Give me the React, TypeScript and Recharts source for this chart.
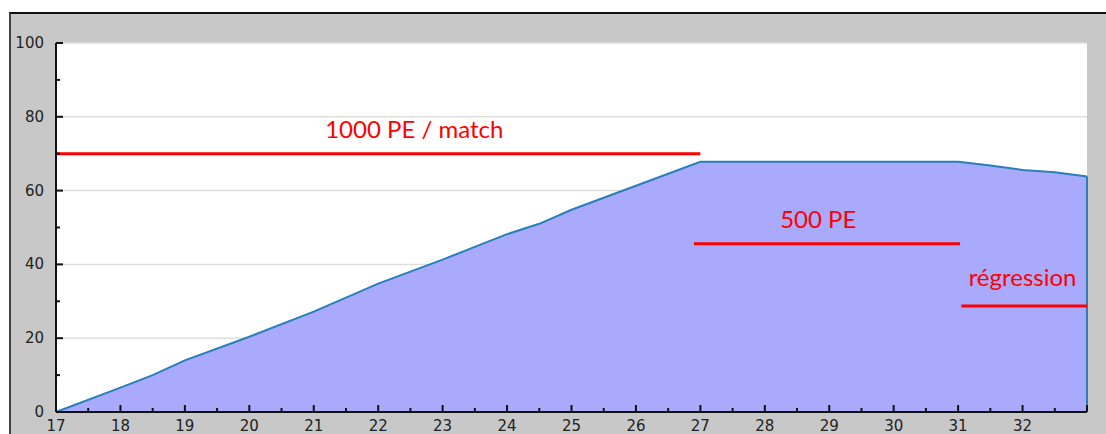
import React from 'react';
import { AreaChart, Area, XAxis, YAxis, CartesianGrid, ReferenceLine, ReferenceDot } from 'recharts';

// Age (years) and value
const ages = [17, 18, 18.5, 19, 20, 21, 22, 23, 24, 24.5, 25, 26, 27, 28, 29, 30, 31, 31.5, 32, 32.5, 33];
const values = [0, 6.6, 10, 14, 20.4, 27.2, 34.8, 41.3, 48.2, 51, 54.8, 61.3, 67.8, 67.8, 67.8, 67.8, 67.8, 66.8, 65.6, 65.0, 63.8];

const xTicks = [17, 17.5, 18, 18.5, 19, 19.5, 20, 20.5, 21, 21.5, 22, 22.5, 23, 23.5, 24, 24.5, 25, 25.5, 26, 26.5, 27, 27.5, 28, 28.5, 29, 29.5, 30, 30.5, 31, 31.5, 32, 32.5, 33];
const xLabels = [17, 18, 19, 20, 21, 22, 23, 24, 25, 26, 27, 28, 29, 30, 31, 32];
const yTicks = [0, 10, 20, 30, 40, 50, 60, 70, 80, 90, 100];
const yLabels = [0, 20, 40, 60, 80, 100];
const gridValues = [20, 40, 60, 80, 100];

// Annotations: phase segments
const phaseNames = ['1000 PE / match', '500 PE', 'régression'];
const phaseStart = [17, 26.9, 31.05];
const phaseEnd = [27, 31.03, 33];
const phaseLevel = [70, 45.6, 28.7];
const phaseLabelX = [22.56, 28.83, 32.0];
const phaseLabelY = [74.3, 49.9, 34.1];

const data = ages.map((a, i) => ({ age: a, v: values[i] }));

const XTick = (props: any) => {
  const { x, y, payload } = props;
  const v = payload.value;
  const major = Number.isInteger(v);
  const len = major ? 7 : 4;
  return (
    <g>
      <line x1={x} x2={x} y1={y} y2={y - len} stroke="#111" strokeWidth={2} />
      {xLabels.includes(v) && (
        <text x={x} y={y + 19} textAnchor="middle" fontFamily="DejaVu Sans" fontSize={15} fill="#222">
          {v}
        </text>
      )}
    </g>
  );
};

const YTick = (props: any) => {
  const { x, y, payload } = props;
  const v = payload.value;
  const major = yLabels.includes(v);
  const len = major ? 7 : 4;
  return (
    <g>
      <line x1={x} x2={x + len} y1={y} y2={y} stroke="#111" strokeWidth={2} />
      {major && (
        <text x={x - 12} y={y + 5} textAnchor="end" fontFamily="DejaVu Sans" fontSize={15} fill="#222">
          {v}
        </text>
      )}
    </g>
  );
};

export default function App() {
  const lastX = ages[ages.length - 1];
  const lastY = values[values.length - 1];
  return (
    <div style={{ position: 'absolute', left: 0, top: 0, width: 1106, height: 434, background: '#fff', overflow: 'hidden' }}>
      <div
        style={{
          position: 'absolute',
          left: 9,
          top: 12,
          width: 1097,
          height: 422,
          background: '#c8c8c8',
          borderTop: '2px solid #111',
          borderLeft: '2px solid #444',
          boxSizing: 'border-box',
        }}
      />
      <div style={{ position: 'absolute', left: 0, top: 0 }}>
        <AreaChart width={1106} height={434} data={data} margin={{ top: 43, right: 19, left: 0, bottom: 0 }}>
          <CartesianGrid
            vertical={false}
            horizontalValues={gridValues}
            stroke="#dedede"
            strokeWidth={1.5}
            fill="#ffffff"
            fillOpacity={1}
          />
          <XAxis
            dataKey="age"
            type="number"
            domain={[17, 33]}
            ticks={xTicks}
            interval={0}
            height={22}
            tickSize={0}
            tickMargin={0}
            tickLine={false}
            axisLine={{ stroke: '#111', strokeWidth: 2 }}
            tick={<XTick />}
          />
          <YAxis
            type="number"
            domain={[0, 100]}
            ticks={yTicks}
            interval={0}
            width={56}
            tickSize={0}
            tickMargin={0}
            tickLine={false}
            axisLine={{ stroke: '#111', strokeWidth: 2 }}
            tick={<YTick />}
          />
          <Area
            type="linear"
            dataKey="v"
            stroke="#2a7fb8"
            strokeWidth={2}
            fill="#a9aafc"
            fillOpacity={1}
            isAnimationActive={false}
            dot={false}
            activeDot={false}
          />
          <ReferenceLine
            segment={[{ x: lastX, y: 0 }, { x: lastX, y: lastY }]}
            stroke="#2a7fb8"
            strokeWidth={2}
          />
          {phaseNames.map((n, i) => (
            <ReferenceLine
              key={'l' + i}
              segment={[{ x: phaseStart[i], y: phaseLevel[i] }, { x: phaseEnd[i], y: phaseLevel[i] }]}
              stroke="#ff0000"
              strokeWidth={3}
            />
          ))}
          {phaseNames.map((n, i) => (
            <ReferenceDot
              key={'t' + i}
              x={phaseLabelX[i]}
              y={phaseLabelY[i]}
              r={0}
              shape={(p: any) => (
                <text x={p.cx} y={p.cy} textAnchor="middle" fontFamily="Lato" fontSize={24} fill="#ff0000">
                  {n}
                </text>
              )}
            />
          ))}
        </AreaChart>
      </div>
    </div>
  );
}
